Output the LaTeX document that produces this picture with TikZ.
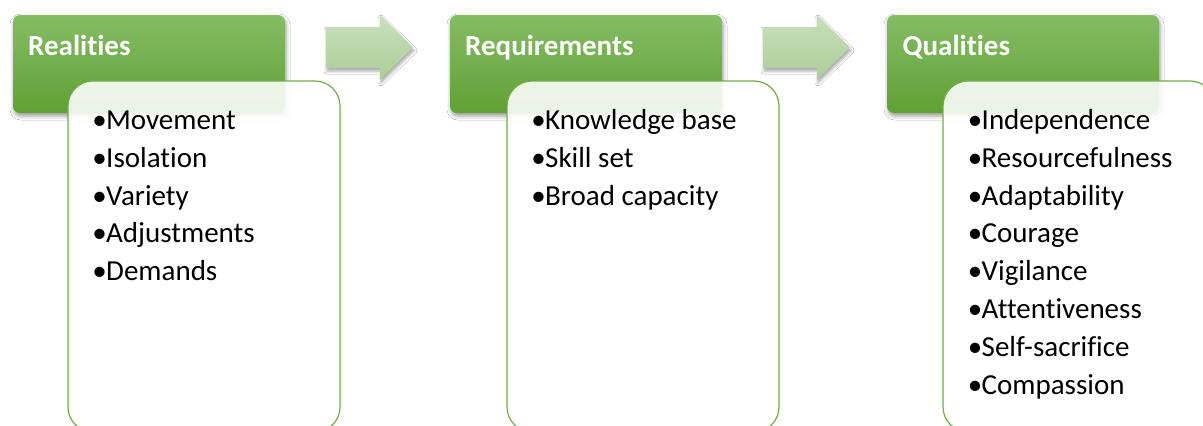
\documentclass[tikz,border=0pt]{standalone}
\usepackage{fontspec}
\setmainfont{Carlito}[Ligatures=NoCommon]
\usetikzlibrary{shadows.blur}
\definecolor{hdrtop}{RGB}{133,188,101}
\definecolor{hdrbot}{RGB}{95,161,51}
\definecolor{boxline}{RGB}{112,173,71}
\definecolor{arrtop}{RGB}{200,224,188}
\definecolor{arrbot}{RGB}{172,205,152}
\tikzset{
 hdr/.style={draw=none, rounded corners=7pt, top color=hdrtop, bottom color=hdrbot,
   minimum width=272pt, minimum height=98pt, anchor=north west, inner sep=0pt, outer sep=0pt,
   blur shadow={shadow xshift=1pt, shadow yshift=-3pt, shadow blur radius=4pt, shadow opacity=40}},
 body/.style={draw=boxline, line width=1.2pt, fill=white, fill opacity=0.88, rounded corners=25pt,
   minimum width=272pt, minimum height=351pt, anchor=north west, inner sep=0pt, outer sep=0pt},
 arr/.style={top color=arrtop, bottom color=arrbot, draw=none,
   blur shadow={shadow xshift=1pt, shadow yshift=-3pt, shadow blur radius=3pt, shadow opacity=35}},
 htext/.style={font=\fontsize{29}{35}\selectfont\bfseries, text=white, anchor=base west, inner sep=0pt},
 btext/.style={font=\fontsize{29}{35}\selectfont, anchor=base west, inner sep=0pt},
 bul/.style={font=\fontsize{29}{35}\selectfont, anchor=base, inner sep=0pt},
}
\begin{document}
\begin{tikzpicture}[x=1pt,y=-1pt]
\useasboundingbox (0,0) rectangle (1203,426);
\clip (0,0) rectangle (1203,426);
\fill[white] (0,0) rectangle (1203,426);

% column 1
\node[hdr] (h1) at (13,15) {};
\node[htext] (t1) at (28,55.5) {Realities};
\path[arr] (326pt,-27pt) -- (380pt,-27pt) -- (380pt,-15pt) -- (413pt,-47.5pt) -- (380pt,-80pt) -- (380pt,-68pt) -- (326pt,-68pt) -- cycle;
\node[body] (c1) at (68,81) {};
\foreach \t [count=\i] in {Movement,Isolation,Variety,Adjustments,Demands} {
  \node[bul] (ab\i) at (99.5,{129.5+37.8*(\i-1)}) {•};
  \node[btext] (a\i) at (106,{129.5+37.8*(\i-1)}) {\t};
}

% column 2
\node[hdr] (h2) at (450,15) {};
\node[htext] (t2) at (465,55.5) {Requirements};
\path[arr] (763pt,-27pt) -- (817pt,-27pt) -- (817pt,-15pt) -- (850pt,-47.5pt) -- (817pt,-80pt) -- (817pt,-68pt) -- (763pt,-68pt) -- cycle;
\node[body] (c2) at (507,81) {};
\foreach \t [count=\i] in {Knowledge base,Skill set,Broad capacity} {
  \node[bul] (bb\i) at (538.5,{129.5+37.8*(\i-1)}) {•};
  \node[btext] (b\i) at (545,{129.5+37.8*(\i-1)}) {\t};
}

% column 3
\node[hdr] (h3) at (887,15) {};
\node[htext] (t3) at (902.5,55.5) {Qualities};
\node[body] (c3) at (943,81) {};
\foreach \t [count=\i] in {Independence,Resourcefulness,Adaptability,Courage,Vigilance,Attentiveness,Self-sacrifice,Compassion} {
  \node[bul] (cb\i) at (975,{129.5+37.8*(\i-1)}) {•};
  \node[btext] (q\i) at (981.5,{129.5+37.8*(\i-1)}) {\t};
}
\end{tikzpicture}
\end{document}
